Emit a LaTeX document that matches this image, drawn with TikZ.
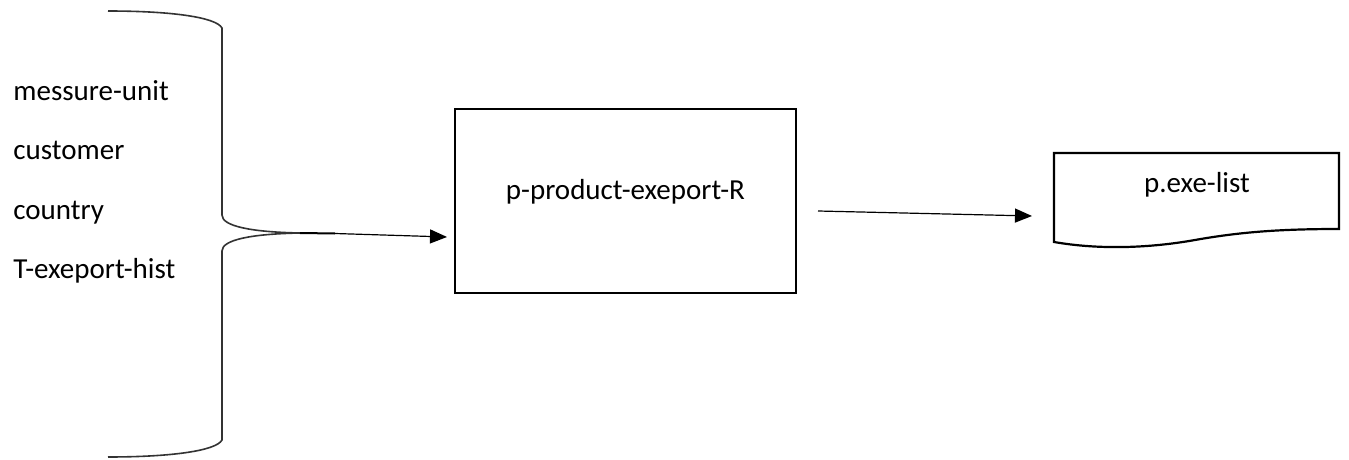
\documentclass[tikz,border=0pt]{standalone}
\usepackage{fontspec}
\setmainfont{Carlito}
\usepackage{tikz}
\usetikzlibrary{arrows.meta,positioning}

\begin{document}
\begin{tikzpicture}[x=0.5pt,y=-0.5pt,
 font=\fontsize{14.5}{17}\selectfont,
 tbl/.style={anchor=base west,inner sep=0pt},
 procbox/.style={draw,line width=1.1pt,minimum width=170.5pt,minimum height=92pt,inner sep=0pt},
 flow/.style={line width=0.6pt,-{Triangle[length=8.5pt,width=7pt]}}]
\useasboundingbox (0,0) rectangle (1349,460);
% input tables
\node[tbl] (unit) at (13,101) {messure-unit};
\node[tbl] (cust) at (13,160) {customer};
\node[tbl] (ctry) at (13,219) {country};
\node[tbl] (hist) at (13,278.5) {T-exeport-hist};
% brace
\coordinate (tip) at (300,233);
\coordinate (tipend) at (335,233.5);
\draw[line width=0.8pt,black!80](108,11) .. controls (170,11) and (216,17) .. (222,28)
 --(222,215) .. controls (222,226) and (250,232) .. (tip)
 .. controls (250,234) and (222,240) .. (222,251)
 --(222,440) .. controls (216,451) and (170,457) .. (108,457);
\draw[line width=1pt](tip)--(tipend);
% program
\node[procbox] (proc) at (625.5,201) {};
\node[anchor=base,inner sep=0pt] (proctxt) at (625.5,199) {p-product-exeport-R};
\coordinate (procin) at (447,237);
\draw[flow](tipend)--(procin);
% output list
\draw[line width=1.1pt](1054,153)--(1339,153)--(1339,229)
 .. controls (1280,229) and (1240,232) .. (1195,240)
 .. controls (1150,248) and (1100,250) .. (1054,242)--cycle;
\node[anchor=base,inner sep=0pt] (listtxt) at (1197,192) {p.exe-list};
\coordinate (outstart) at (818,211);
\coordinate (outend) at (1032,216);
\draw[flow](outstart)--(outend);
\end{tikzpicture}
\end{document}
